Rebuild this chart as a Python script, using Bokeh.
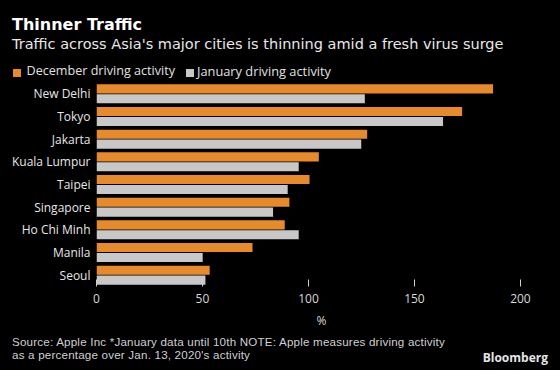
from bokeh.plotting import figure
from bokeh.layouts import column
from bokeh.models import FactorRange, Range1d, FixedTicker, CustomJS, Div
from bokeh.transform import dodge
from bokeh.document import Document
from bokeh.embed import file_html
from bokeh.resources import INLINE

cities = ["New Delhi", "Tokyo", "Jakarta", "Kuala Lumpur", "Taipei",
          "Singapore", "Ho Chi Minh", "Manila", "Seoul"]
december = [187.1, 172.5, 127.7, 104.9, 100.5, 91.0, 88.8, 73.6, 53.4]
january = [126.6, 163.5, 124.9, 95.4, 90.2, 83.3, 95.4, 50.1, 51.4]
x_ticks = [0, 50, 100, 150, 200]
series_names = ["December driving activity", "January driving activity"]
title = "Thinner Traffic"
subtitle = "Traffic across Asia's major cities is thinning amid a fresh virus surge"
source_lines = ["Source: Apple Inc *January data until 10th NOTE: Apple measures driving activity",
                "as a percentage over Jan. 13, 2020's activity"]

FONT = "Open Sans"
HFONT = "DejaVu Sans"
SFONT = "Liberation Sans"
ORANGE = "#e68a2b"
GREY = "#c8c8c8"
W = 560


def span(text, left, top, size, color, font, weight="normal", right=None, lh=None,
         ls=0):
    pos = f"right:{right}px;" if right is not None else f"left:{left}px;"
    lh = size if lh is None else lh
    return (f'<span style="position:absolute;{pos}top:{top}px;font-family:\'{font}\';'
            f'font-size:{size}px;line-height:{lh}px;font-weight:{weight};color:{color};'
            f'letter-spacing:{ls}px;white-space:nowrap;">{text}</span>')


def box(left, top, color):
    return (f'<span style="position:absolute;left:{left}px;top:{top}px;width:8px;'
            f'height:8px;background:{color};"></span>')


def panel(inner, h):
    return (f'<div style="position:relative;width:{W}px;height:{h}px;'
            f'background:black;">{inner}</div>')


# ---------- header ----------
HH = 82
head_html = "".join([
    span(title, 12, 17.0, 16, "#ffffff", HFONT, weight="bold"),
    span(subtitle, 12, 36.7, 14.5, "#e8e8e8", HFONT),
    box(13, 69, ORANGE),
    span(series_names[0], 26.5, 65.3, 12.6, "#e0e0e0", FONT),
    box(186, 69, GREY),
    span(series_names[1], 197, 65.3, 12.8, "#e0e0e0", FONT),
])
head = Div(text=panel(head_html, HH), width=W, height=HH, margin=(0, 0, 0, 0))

# ---------- main chart ----------
MH = 251
p = figure(width=W, height=MH, output_backend="svg", toolbar_location=None,
           title=None,
           y_range=FactorRange(factors=cities[::-1], range_padding=0),
           x_range=Range1d(0, 212.3),
           min_border_left=96, min_border_right=14,
           min_border_top=0, min_border_bottom=MH - 204)
p.background_fill_color = "black"
p.border_fill_color = "black"
p.outline_line_color = None
p.xgrid.visible = False
p.ygrid.visible = False

src = dict(city=cities, dec=december, jan=january)
p.hbar(y=dodge("city", 0.22, range=p.y_range), right="dec", left=0,
       height=0.4, source=src, color=ORANGE, line_color=None)
p.hbar(y=dodge("city", -0.22, range=p.y_range), right="jan", left=0,
       height=0.4, source=src, color=GREY, line_color=None)

p.xaxis.ticker = FixedTicker(ticks=x_ticks)
p.xaxis.axis_line_color = None
p.xaxis.major_tick_in = 7
p.xaxis.major_tick_out = 0
p.xaxis.major_tick_line_color = "#d0d0d0"
p.xaxis.minor_tick_line_color = None
p.xaxis.major_label_text_font = FONT
p.xaxis.major_label_text_font_size = "12px"
p.xaxis.major_label_text_color = "#d8d8d8"
p.xaxis.major_label_standoff = 7
p.xaxis.axis_label = "%"
p.xaxis.axis_label_text_font = FONT
p.xaxis.axis_label_text_font_size = "12px"
p.xaxis.axis_label_text_font_style = "normal"
p.xaxis.axis_label_text_color = "#d8d8d8"
p.xaxis.axis_label_standoff = 6

p.yaxis.axis_line_color = None
p.yaxis.major_tick_line_color = None
p.yaxis.minor_tick_line_color = None
p.yaxis.major_label_text_font = FONT
p.yaxis.major_label_text_font_size = "12px"
p.yaxis.major_label_text_color = "#e6e6e6"
p.yaxis.major_label_standoff = 0

# ---------- footer ----------
FH = 370 - HH - MH
fb = HH + MH  # footer top in page pixels
SS = 11.6   # source font size
SL = 13.0   # source line spacing
# Liberation Sans: baseline sits 0.905em below the top of its content area
s_top = 345.2 - fb - (SL - 1.117 * SS) / 2 - 0.905 * SS
foot_html = "".join([
    span("<br>".join(source_lines), 12, round(s_top, 1), SS, "#d0d0d0", SFONT, lh=SL,
         ls=0.2),
    span("Bloomberg", 0, round(363 - fb - 0.888 * 12, 1), 12, "#e6e6e6", FONT,
         weight="bold", right=12),
])
foot = Div(text=panel(foot_html, FH), width=W, height=FH, margin=(0, 0, 0, 0))

layout = column(head, p, foot, spacing=0)
layout.styles = {"background-color": "black"}

doc = Document()
doc.add_root(layout)
doc.js_on_event("document_ready", CustomJS(code="document.body.style.background='black';"))

open("out.html", "w").write(file_html(layout, INLINE))
